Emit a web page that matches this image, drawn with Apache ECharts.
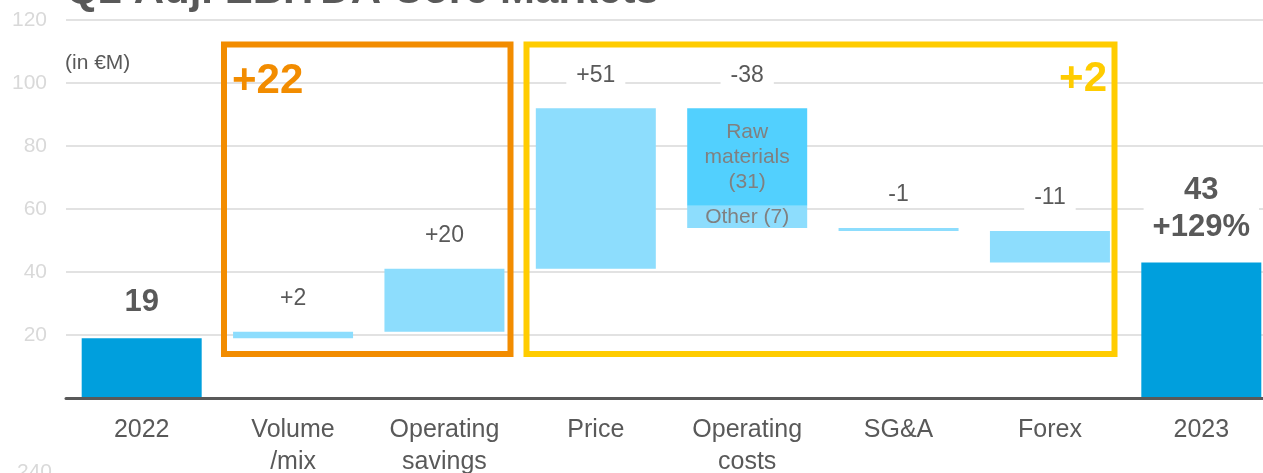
<!DOCTYPE html>
<html>
<head>
<meta charset="utf-8">
<script src="https://cdn.jsdelivr.net/npm/echarts@6/dist/echarts.min.js"></script>
<style>
html,body{margin:0;padding:0;background:#fff;}
#c{width:1263px;height:473px;}
</style>
</head>
<body>
<div id="c"></div>
<script>
// ---- data ----
const categories = ['2022', 'Volume\n/mix', 'Operating\nsavings', 'Price', 'Operating\ncosts', 'SG&A', 'Forex', '2023'];
const baseValues = [0, 19, 21, 41, 54, 53, 43, 0];          // invisible floor of each floating bar
const changeValues = [0, 2, 20, 51, 7, 1, 10, 0];           // light blue bars
const rawMaterialValues = [0, 0, 0, 0, 31, 0, 0, 0];        // raw materials part of operating costs
const totalValues = [19, 0, 0, 0, 0, 0, 0, 43];             // start / end totals
const topLabels = ['19', '+2', '+20', '+51', '-38', '-1', '-11', '43\n+129%'];
const yTicks = [0, 20, 40, 60, 80, 100, 120];

const FONT = 'Arial, "Liberation Sans", sans-serif';
const LIGHT = '#8DDDFD', RAW = '#52D0FE', DARK = '#009FDD', TXT = '#595959';

const tops = categories.map((_, i) => baseValues[i] + changeValues[i] + rawMaterialValues[i] + totalValues[i]);
const isTotal = i => totalValues[i] > 0;

const chart = echarts.init(document.getElementById('c'));
chart.setOption({
  animation: false,
  textStyle: { fontFamily: FONT },
  grid: { left: 66, width: 1211, top: 20, bottom: 75, containLabel: false, outerBoundsMode: 'none' },
  xAxis: {
    type: 'category',
    data: categories,
    axisTick: { show: false },
    axisLine: { lineStyle: { color: TXT, width: 3 } },
    axisLabel: { color: TXT, fontSize: 25, lineHeight: 32, margin: 16, fontFamily: FONT, interval: 0 },
    z: 5
  },
  yAxis: {
    type: 'value',
    min: yTicks[0], max: yTicks[yTicks.length - 1], interval: 20,
    axisLine: { show: false }, axisTick: { show: false },
    axisLabel: { color: '#d9d9d9', fontSize: 21, margin: 19, fontFamily: FONT,
      formatter: v => (v === 0 ? '' : String(v)) },
    splitLine: { lineStyle: { color: '#e2e2e2', width: 2 } }
  },
  series: [
    { type: 'bar', stack: 'w', barWidth: 120, silent: true,
      itemStyle: { color: 'transparent' }, data: baseValues },
    { type: 'bar', stack: 'w', barWidth: 120, itemStyle: { color: LIGHT },
      data: changeValues.map((v, i) => i === 4 ? {
        value: v,
        label: { show: true, position: 'inside', formatter: 'Other (7)', color: '#808080', fontSize: 21, fontFamily: FONT }
      } : v) },
    { type: 'bar', stack: 'w', barWidth: 120, itemStyle: { color: RAW },
      data: rawMaterialValues.map((v, i) => i === 4 ? {
        value: v,
        label: { show: true, position: 'inside', formatter: 'Raw\nmaterials\n(31)', color: '#808080', fontSize: 21, lineHeight: 25, fontFamily: FONT }
      } : v) },
    { type: 'bar', stack: 'w', barWidth: 120, itemStyle: { color: DARK }, data: totalValues },
    { type: 'bar', barWidth: 120, barGap: '-100%', silent: true,
      itemStyle: { color: 'transparent' }, z: 3,
      data: tops.map((v, i) => ({
        value: v,
        label: isTotal(i) ? {
          show: true, position: 'top', distance: 17, formatter: topLabels[i],
          color: TXT, fontSize: 31, fontWeight: 'bold', lineHeight: 37, fontFamily: FONT,
          backgroundColor: '#fff', padding: [0, 9]
        } : {
          show: true, position: 'top', distance: 20, formatter: topLabels[i],
          color: TXT, fontSize: 23, lineHeight: 26, fontFamily: FONT,
          backgroundColor: '#fff', padding: [0, 10]
        }
      })) }
  ],
  graphic: [
    { type: 'text', x: 66, y: 12, z: 10, style: { text: 'Q2 Adj. EBITDA Core Markets', font: 'bold 42px ' + FONT, fill: TXT, textVerticalAlign: 'bottom' } },
    { type: 'text', x: 65, y: 63, z: 10, style: { text: '(in €M)', font: '21px ' + FONT, fill: TXT, textVerticalAlign: 'middle' } },
    { type: 'rect', z: 10, shape: { x: 224, y: 44.5, width: 286.5, height: 309.5 }, style: { fill: 'none', stroke: '#F28C00', lineWidth: 6 } },
    { type: 'rect', z: 10, shape: { x: 526.5, y: 44.5, width: 588, height: 309.5 }, style: { fill: 'none', stroke: '#FFCC00', lineWidth: 6 } },
    { type: 'text', x: 232, y: 81, z: 10, style: { text: '+22', font: 'bold 42px ' + FONT, fill: '#F28C00', textVerticalAlign: 'middle' } },
    { type: 'text', x: 1107, y: 79, z: 10, style: { text: '+2', font: 'bold 42px ' + FONT, fill: '#FFCC00', textAlign: 'right', textVerticalAlign: 'middle' } },
    { type: 'text', x: 52, y: 472, z: 10, style: { text: '240', font: '21px ' + FONT, fill: '#d9d9d9', textAlign: 'right', textVerticalAlign: 'middle' } }
  ]
});
</script>
</body>
</html>
